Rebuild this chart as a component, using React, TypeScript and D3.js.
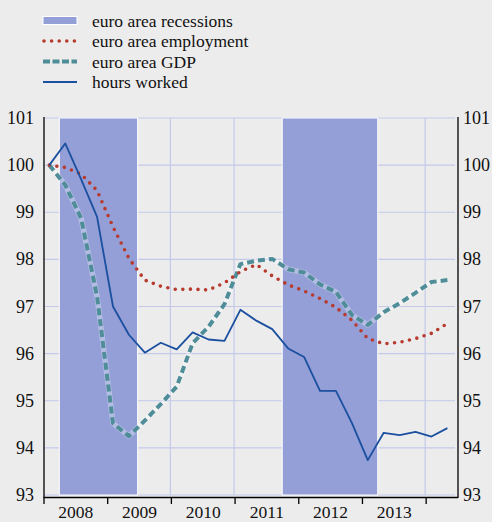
import React, { useEffect } from "react";
import * as d3 from "d3";

const W = 492;
const H = 522;

const hoursWorked = [100, 100.46, 99.7, 98.9, 97.0, 96.4, 96.02, 96.23, 96.09, 96.45, 96.3, 96.27, 96.93, 96.7, 96.52, 96.11, 95.93, 95.21, 95.21, 94.53, 93.74, 94.32, 94.27, 94.34, 94.24, 94.42];
const employment = [100, 99.95, 99.81, 99.46, 98.69, 98.02, 97.56, 97.43, 97.36, 97.37, 97.35, 97.5, 97.74, 97.89, 97.65, 97.46, 97.33, 97.17, 96.98, 96.71, 96.32, 96.21, 96.24, 96.32, 96.43, 96.64];
const gdp = [100, 99.58, 98.87, 97.21, 94.52, 94.25, 94.58, 94.93, 95.3, 96.22, 96.57, 97.05, 97.9, 97.97, 98.01, 97.79, 97.72, 97.47, 97.31, 96.82, 96.61, 96.88, 97.07, 97.29, 97.52, 97.56];
const recessions: [number, number][] = [[2008.24, 2009.47], [2011.74, 2013.24]];
const years = [2008, 2009, 2010, 2011, 2012, 2013];
const yTicks = [93, 94, 95, 96, 97, 98, 99, 100, 101];
const legendLabels = ["euro area recessions", "euro area employment", "euro area GDP", "hours worked"];

const quarterTime = (i: number) => 2008 + 1 / 12 + i / 4;

const BG = "#ececec";
const GRID = "#c4c9ea";
const REC = "#939fd6";
const BLUE = "#1b4f9f";
const RED = "#b73a2e";
const TEAL = "#4f8d99";
const FONT = "'Liberation Serif', 'Times New Roman', serif";

export default function App() {
  useEffect(() => {
    document.body.style.margin = "0";
    document.body.style.background = BG;
  }, []);

  const x = d3.scaleLinear().domain([2008, 2014.5]).range([44, 458]);
  const y = d3.scaleLinear().domain([93, 101]).range([495, 118]);
  const line = d3
    .line<number>()
    .x((_, i) => x(quarterTime(i)))
    .y((d) => y(d));

  const legendY = [20.5, 41, 61.5, 82];

  return (
    <svg width={W} height={H} style={{ display: "block", background: BG, fontFamily: FONT }}>
      <rect x={0} y={0} width={W} height={H} fill={BG} />
      {/* gridlines */}
      {yTicks.map((t) => (
        <line key={"h" + t} x1={44} x2={455} y1={y(t)} y2={y(t)} stroke={GRID} strokeWidth={1.2} />
      ))}
      {years.slice(1).concat([2014]).map((t) => (
        <line key={"v" + t} x1={x(t) - 1} x2={x(t) - 1} y1={118} y2={495} stroke={GRID} strokeWidth={1.2} />
      ))}
      {/* recessions */}
      {recessions.map((r, i) => (
        <rect key={"r" + i} x={x(r[0])} y={118} width={x(r[1]) - x(r[0])} height={495 - 118} fill={REC} stroke="#ffffff" strokeWidth={1} />
      ))}
      {/* series */}
      <path d={line(gdp) || ""} fill="none" stroke="#ffffff" strokeOpacity={0.3} strokeWidth={5.5} strokeLinejoin="round" />
      <path d={line(gdp) || ""} fill="none" stroke={TEAL} strokeWidth={4} strokeDasharray="7 4" strokeLinejoin="round" />
      <path d={line(employment) || ""} fill="none" stroke={RED} strokeWidth={3.6} strokeDasharray="0 7.6" strokeLinecap="round" strokeLinejoin="round" />
      <path d={line(hoursWorked) || ""} fill="none" stroke={BLUE} strokeWidth={1.8} strokeLinejoin="round" />
      {/* axes */}
      <line x1={44} x2={44} y1={117} y2={498} stroke="#000" strokeWidth={1.3} />
      <line x1={458} x2={458} y1={117} y2={498} stroke="#000" strokeWidth={1.3} />
      <line x1={44} x2={458} y1={497.5} y2={497.5} stroke="#000" strokeWidth={1.3} />
      {years.concat([2014]).map((t) => (
        <line key={"t" + t} x1={x(t)} x2={x(t)} y1={497} y2={504} stroke="#000" strokeWidth={1.3} />
      ))}
      {yTicks.map((t) => (
        <g key={"yl" + t}>
          <text x={34} y={y(t) + 6} textAnchor="end" fontSize={18} fill="#111">{t}</text>
          <text x={463} y={y(t) + 6} textAnchor="start" fontSize={18} fill="#111">{t}</text>
        </g>
      ))}
      {years.map((t) => (
        <text key={"x" + t} x={x(t + 0.5)} y={518} textAnchor="middle" fontSize={17.5} fill="#111">{t}</text>
      ))}
      {/* legend */}
      <rect x={43} y={legendY[0] - 4} width={34} height={8} fill={REC} stroke="#ffffff" strokeWidth={1} />
      <line x1={44} x2={77} y1={legendY[1]} y2={legendY[1]} stroke={RED} strokeWidth={3.6} strokeDasharray="0 7.6" strokeLinecap="round" />
      <line x1={43} x2={77} y1={legendY[2]} y2={legendY[2]} stroke={TEAL} strokeWidth={4} strokeDasharray="7 2.5" />
      <line x1={43} x2={77} y1={legendY[3]} y2={legendY[3]} stroke={BLUE} strokeWidth={2} />
      {legendLabels.map((l, i) => (
        <text key={l} x={92} y={legendY[i] + 6} fontSize={17.5} fill="#111">{l}</text>
      ))}
    </svg>
  );
}
